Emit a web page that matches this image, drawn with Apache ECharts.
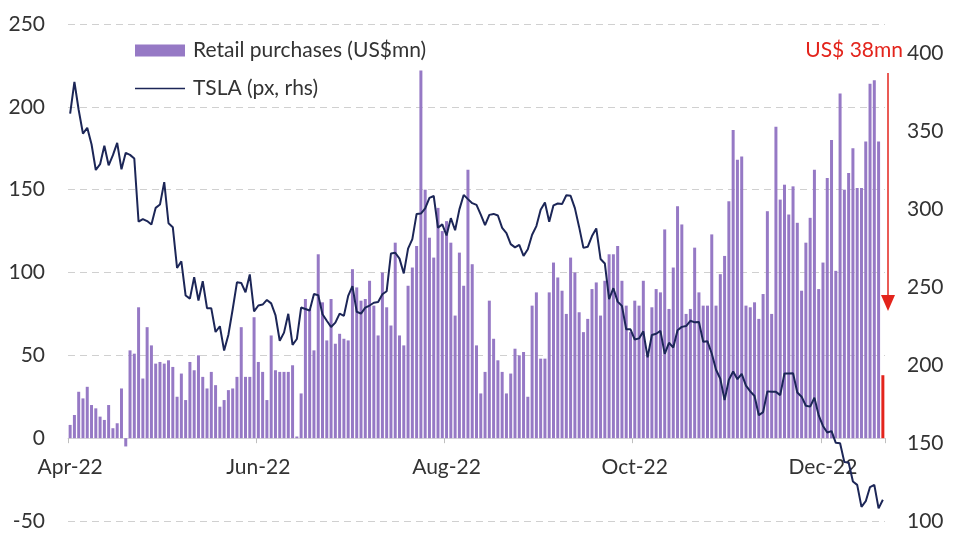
<!DOCTYPE html>
<html>
<head>
<meta charset="utf-8">
<script src="https://cdn.jsdelivr.net/npm/echarts@6.0.0/dist/echarts.min.js"></script>
<style>
  html, body { margin: 0; padding: 0; background: #fff; }
  #main { width: 956px; height: 555px; }
</style>
</head>
<body>
<div id="main"></div>
<script>
// trading days Apr 1 2022 - Jan 4 2023
var firstDay = '2022-04-01';
var lastDay = '2023-01-04';
var holidays = ['2022-04-15', '2022-05-30', '2022-06-20', '2022-07-04',
                '2022-09-05', '2022-11-24', '2022-12-26', '2023-01-02'];
var monthNames = ['Jan', 'Feb', 'Mar', 'Apr', 'May', 'Jun', 'Jul', 'Aug', 'Sep', 'Oct', 'Nov', 'Dec'];

// retail purchases, US$mn (left axis), one value per trading day
var purchases = [
    // Apr
    8, 14, 28, 24, 31, 20, 18, 13, 11, 20, 6, 9, 30, -5, 53, 51, 79, 36, 67, 56,
    // May
    45, 46, 45, 47, 43, 25, 39, 23, 46, 41, 50, 37, 30, 40, 32, 19, 23, 29, 30, 37, 67,
    // Jun
    37, 37, 73, 46, 40, 23, 62, 41, 40, 40, 40, 44, 1, 27, 84, 78, 53, 111, 82, 59, 84,
    // Jul
    57, 63, 60, 59, 102, 91, 83, 84, 95, 80, 62, 100, 79, 68, 118, 62, 56, 92, 103, 116,
    // Aug
    222, 150, 121, 109, 139, 125, 131, 118, 74, 112, 92, 162, 105, 56, 27, 40, 83, 60, 47, 40, 27, 39, 54,
    // Sep
    50, 52, 25, 80, 88, 48, 48, 88, 106, 97, 89, 75, 109, 100, 76, 64, 72, 90, 94, 74, 95,
    // Oct
    111, 111, 116, 95, 80, 64, 83, 80, 95, 51, 79, 90, 88, 126, 78, 103, 140, 129, 75, 78, 115,
    // Nov
    88, 80, 80, 123, 80, 99, 110, 143, 186, 168, 170, 80, 79, 82, 72, 87, 137, 75, 188, 144, 153,
    // Dec
    135, 152, 130, 89, 118, 133, 162, 90, 106, 157, 180, 101, 208, 150, 160, 175, 151, 151, 179, 214, 216,
    // Jan
    179, 38
];

// TSLA close (rhs)
var tsla = [
    361.5, 381.8, 363.8, 348.6, 352.4, 341.8, 325.3, 329.0, 340.8, 328.3, 334.8, 342.7, 325.7, 336.3, 335.0, 332.7, 292.1, 293.8, 292.5, 290.3,
    301.0, 303.1, 317.5, 291.1, 288.6, 262.4, 266.7, 244.7, 242.7, 256.5, 241.5, 253.9, 236.6, 236.5, 221.3, 225.0, 209.4, 219.6, 235.9, 253.2, 252.8,
    246.8, 258.3, 234.5, 238.3, 238.9, 241.9, 239.7, 232.2, 215.7, 220.9, 233.0, 213.1, 216.8, 237.0, 236.1, 235.1, 245.7, 244.9, 232.7, 228.5, 224.5,
    227.3, 233.1, 231.7, 244.5, 250.8, 234.3, 233.1, 237.0, 238.3, 240.1, 240.5, 245.5, 247.5, 271.7, 272.2, 268.4, 258.9, 274.8, 280.9, 297.1,
    297.3, 300.6, 307.4, 308.6, 288.2, 290.4, 283.3, 294.4, 286.6, 300.0, 309.3, 306.6, 304.0, 302.9, 296.7, 289.9, 296.5, 297.1, 296.1, 288.1, 284.8, 277.7, 275.6,
    277.2, 270.2, 274.4, 283.7, 289.3, 299.7, 304.4, 292.1, 302.6, 303.8, 303.4, 309.1, 308.7, 300.8, 288.6, 275.3, 276.0, 282.9, 287.8, 268.2, 265.3,
    242.4, 249.4, 240.8, 238.1, 223.1, 223.0, 216.5, 217.2, 221.7, 205.0, 219.4, 220.2, 222.0, 207.3, 214.4, 211.3, 222.4, 224.6, 225.1, 228.5, 227.5,
    227.8, 215.0, 215.3, 207.5, 197.1, 191.3, 177.6, 190.7, 196.0, 191.0, 194.4, 186.9, 183.2, 180.2, 167.9, 169.9, 183.2, 182.9, 182.9, 180.8, 194.7,
    194.7, 194.9, 182.5, 179.8, 174.0, 173.4, 179.1, 167.8, 161.0, 156.8, 157.7, 150.2, 149.9, 137.8, 137.6, 125.4, 123.2, 109.1, 112.7, 121.8, 123.2,
    108.1, 113.6
];

function tradingDays(from, to) {
    var out = [];
    var d = new Date(from + 'T00:00:00Z');
    var end = new Date(to + 'T00:00:00Z');
    while (d <= end) {
        var s = d.toISOString().slice(0, 10);
        var wd = d.getUTCDay();
        if (wd !== 0 && wd !== 6 && holidays.indexOf(s) < 0) out.push(s);
        d.setUTCDate(d.getUTCDate() + 1);
    }
    return out;
}
var dates = tradingDays(firstDay, lastDay);

var barData = purchases.map(function (v, i) {
    if (i === purchases.length - 1) {
        return { value: v, itemStyle: { color: '#e3241c' } };
    }
    return v;
});

var font = 'Lato';
var fs = 21;
var myChart = echarts.init(document.getElementById('main'));

var option = {
    animation: false,
    backgroundColor: '#fff',
    textStyle: { fontFamily: font },
    grid: { left: 68, right: 71, top: 24, bottom: 34 },
    legend: {
        orient: 'vertical',
        left: 130,
        top: 35,
        itemWidth: 50,
        itemHeight: 12,
        itemGap: 17,
        textStyle: { fontSize: fs, color: '#333', fontFamily: font, padding: [0, 0, 0, 3] },
        data: [
            { name: 'Retail purchases (US$mn)', icon: 'rect' },
            { name: 'TSLA (px, rhs)', icon: 'path://M0,0L50,0L50,1.6L0,1.6Z' }
        ]
    },
    xAxis: {
        type: 'category',
        data: dates,
        axisLine: { onZero: true, onZeroAxisIndex: 0, lineStyle: { color: '#d9d9d9', width: 1 } },
        axisTick: { show: true, interval: 43, length: 5, lineStyle: { color: '#bfbfbf' } },
        axisLabel: {
            interval: 43,
            margin: -64,
            fontSize: fs,
            color: '#333',
            fontFamily: font,
            formatter: function (v) {
                return monthNames[+v.slice(5, 7) - 1] + '-' + v.slice(2, 4);
            }
        }
    },
    yAxis: [{
        type: 'value',
        min: -50,
        max: 250,
        interval: 50,
        axisLine: { show: false },
        axisTick: { show: false },
        axisLabel: { margin: 23, fontSize: fs, color: '#333', fontFamily: font },
        splitLine: { lineStyle: { color: '#d0d0d0', type: [7, 5], width: 1 } }
    }, {
        type: 'value',
        min: 100,
        max: 419,
        interval: 50,
        axisLine: { show: false },
        axisTick: { show: false },
        splitLine: { show: false },
        axisLabel: {
            margin: 22, fontSize: fs, color: '#333', fontFamily: font,
            formatter: function (v) { return v % 50 === 0 ? String(v) : ''; }
        }
    }],
    series: [{
        name: 'Retail purchases (US$mn)',
        type: 'bar',
        data: barData,
        barCategoryGap: '30%',
        itemStyle: { color: '#9679c5' }
    }, {
        name: 'TSLA (px, rhs)',
        type: 'line',
        yAxisIndex: 1,
        data: tsla,
        symbol: 'none',
        lineStyle: { color: '#1c2657', width: 2 },
        itemStyle: { color: '#1c2657' },
        z: 3
    }],
    graphic: [{
        type: 'text',
        right: 53,
        top: 40,
        style: { text: 'US$ 38mn', fill: '#e3241c', font: fs + 'px Lato' }
    }, {
        type: 'line',
        shape: { x1: 888, y1: 73, x2: 888, y2: 298 },
        style: { stroke: '#e3241c', lineWidth: 1.5 }
    }, {
        type: 'polygon',
        shape: { points: [[881, 295], [895, 295], [888, 311]] },
        style: { fill: '#e3241c' }
    }]
};

myChart.setOption(option);
</script>
</body>
</html>
